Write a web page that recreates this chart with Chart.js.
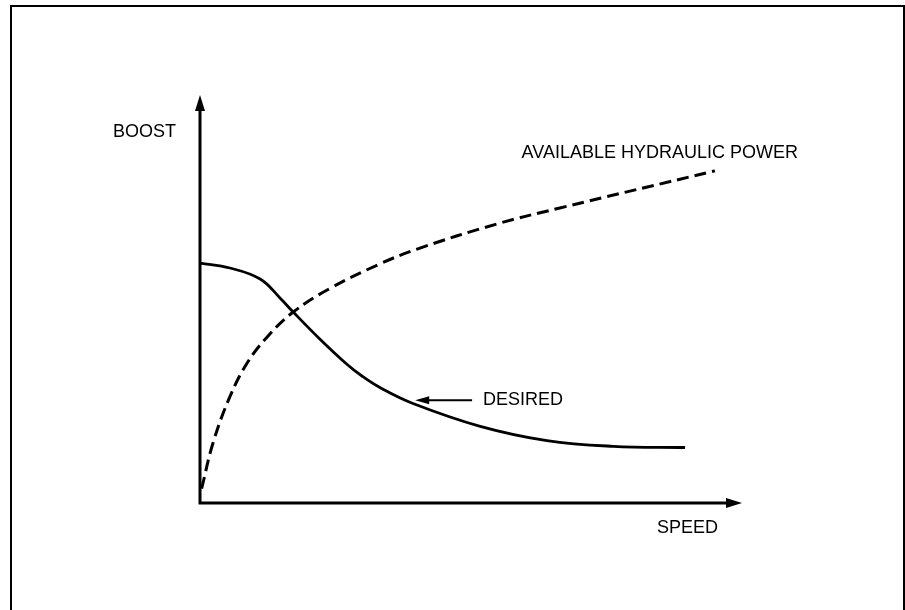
<!DOCTYPE html>
<html>
<head>
<meta charset="utf-8">
<script src="https://cdn.jsdelivr.net/npm/chart.js@4/dist/chart.umd.min.js"></script>
<style>
  body { margin: 0; background: #fff; }
  #wrap { position: relative; width: 905px; height: 610px; overflow: hidden; }
  #frame { position: absolute; left: 10px; top: 5px; width: 891px; height: 640px;
           border: 2px solid #000; border-bottom: none; }
  canvas { position: absolute; left: 0; top: 0; }
</style>
</head>
<body>
<div id="wrap">
  <div id="frame"></div>
  <canvas id="boostChart" width="905" height="610"></canvas>
</div>
<script>
// speed (x) and boost (y), both on a 0-100 relative scale
var desiredSpeed = [0, 5.5, 11.1, 14.8, 17.2, 22.1, 27.1, 30.0, 33.2, 39.3, 51.7, 64.0, 76.2, 89.5];
var desiredBoost = [58.8, 57.6, 54.9, 50.2, 46.8, 40.2, 34.0, 31.0, 28.3, 24.4, 18.8, 15.3, 13.9, 13.6];

var powerSpeed = [0.3, 2.4, 5.5, 8.7, 12.4, 17.2, 24.0, 33.2, 40.2, 54.8, 66.4, 95.0];
var powerBoost = [3.5, 14.7, 26.0, 34.3, 40.7, 46.8, 52.6, 58.6, 62.3, 68.4, 72.3, 81.4];

var axisLabels = ["SPEED", "BOOST"];
var seriesLabels = ["DESIRED", "AVAILABLE HYDRAULIC POWER"];

function toPoints(xs, ys) {
    var pts = [];
    xs.forEach(function(x, i) {
        pts.push({ x: x, y: ys[i] });
    });
    return pts;
}

function arrowHead(ctx, x, y, dir, len, half) {
    // dir: "up", "right", "left"
    ctx.beginPath();
    if (dir === "up") {
        ctx.moveTo(x, y);
        ctx.lineTo(x - half, y + len);
        ctx.lineTo(x + half, y + len);
    } else if (dir === "right") {
        ctx.moveTo(x, y);
        ctx.lineTo(x - len, y - half);
        ctx.lineTo(x - len, y + half);
    } else {
        ctx.moveTo(x, y);
        ctx.lineTo(x + len, y - half);
        ctx.lineTo(x + len, y + half);
    }
    ctx.closePath();
    ctx.fill();
}

var annotations = {
    id: "annotations",
    afterDatasetsDraw: function(chart) {
        var ctx = chart.ctx;
        var a = chart.chartArea;
        var xs = chart.scales.x;
        var ys = chart.scales.y;
        ctx.save();
        ctx.strokeStyle = "#000";
        ctx.fillStyle = "#000";
        ctx.lineWidth = 3;

        // axes
        ctx.beginPath();
        ctx.moveTo(a.left, a.top + 12);
        ctx.lineTo(a.left, a.bottom);
        ctx.lineTo(a.right - 12, a.bottom);
        ctx.stroke();
        arrowHead(ctx, a.left, a.top, "up", 16, 5);
        arrowHead(ctx, a.right, a.bottom, "right", 16, 5);

        // desired pointer
        var y0 = ys.getPixelForValue(25.2);
        var xStart = xs.getPixelForValue(50.2);
        var xEnd = xs.getPixelForValue(39.7);
        ctx.lineWidth = 2;
        ctx.beginPath();
        ctx.moveTo(xStart, y0);
        ctx.lineTo(xEnd + 10, y0);
        ctx.stroke();
        arrowHead(ctx, xEnd, y0, "left", 14, 4);

        // labels
        ctx.font = "18px 'Liberation Sans', Arial, sans-serif";
        ctx.textBaseline = "middle";
        ctx.textAlign = "left";
        ctx.fillText(seriesLabels[0], xStart + 11, y0);
        ctx.textAlign = "right";
        ctx.fillText(seriesLabels[1], 798, 153);
        ctx.fillText(axisLabels[1], 176, 132);
        ctx.textAlign = "left";
        ctx.fillText(axisLabels[0], 657, 528);
        ctx.restore();
    }
};

var ctxBoost = document.getElementById("boostChart");

var boostChartInstance = new Chart(ctxBoost, {
    type: "scatter",
    data: {
        datasets: [
            {
                label: seriesLabels[0],
                data: toPoints(desiredSpeed, desiredBoost),
                showLine: true,
                borderColor: "#000",
                borderWidth: 2.8,
                pointRadius: 0,
                tension: 0.4,
            },
            {
                label: seriesLabels[1],
                data: toPoints(powerSpeed, powerBoost),
                showLine: true,
                borderColor: "#000",
                borderWidth: 3,
                borderDash: [12, 6],
                pointRadius: 0,
                tension: 0.4,
            },
        ],
    },
    options: {
        responsive: false,
        animation: false,
        layout: {
            padding: { left: 200, right: 163, top: 95, bottom: 107 },
        },
        plugins: {
            legend: { display: false },
            tooltip: { enabled: false },
        },
        scales: {
            x: { type: "linear", min: 0, max: 100, display: false },
            y: { type: "linear", min: 0, max: 100, display: false },
        },
    },
    plugins: [annotations],
});
</script>
</body>
</html>
